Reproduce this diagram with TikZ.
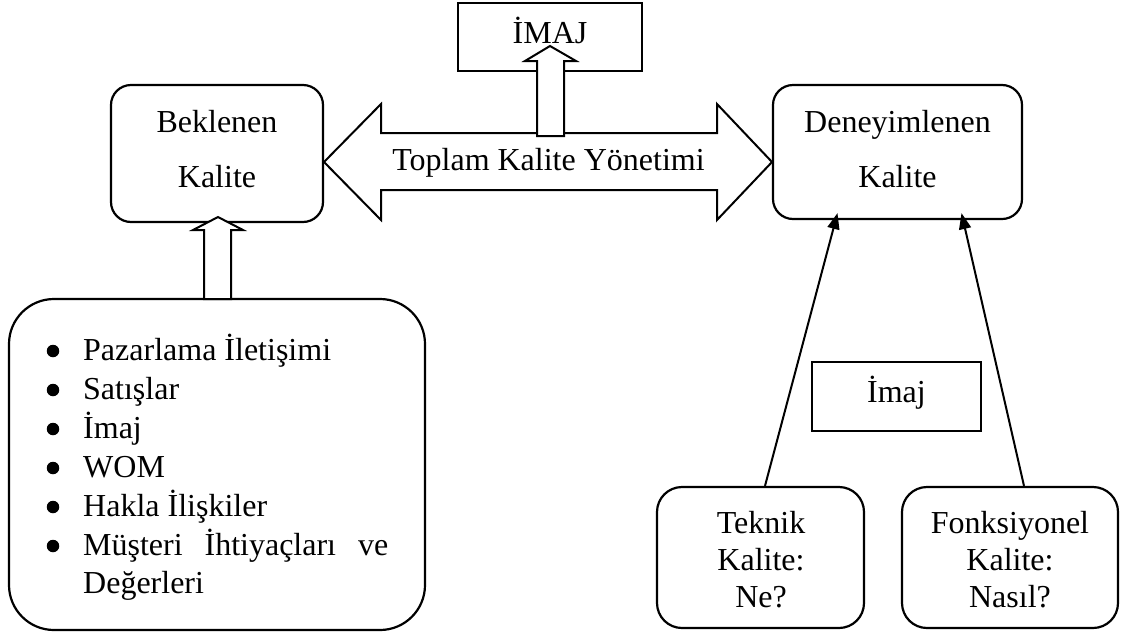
\documentclass[tikz,border=0pt]{standalone}
\usepackage{fontspec}
\setmainfont{Liberation Serif}
\usetikzlibrary{arrows.meta,calc}
\begin{document}
\begin{tikzpicture}[x=1pt,y=-1pt,
  txt/.style={font=\fontsize{32}{38}\selectfont, inner sep=0pt, anchor=base},
  rbox/.style={draw, line width=2.2pt, rounded corners=#1, fill=white, inner sep=0pt},
  sbox/.style={draw, line width=1.3pt, fill=white, inner sep=0pt},
  blockarrow/.style={draw, line width=2pt, fill=white, line join=miter},
  conn/.style={line width=2pt, -{Triangle[length=16pt,width=12pt]}},
  dot/.style={circle, fill=black, inner sep=0pt, minimum size=12.5pt}
]
\useasboundingbox (0,0) rectangle (1123,635);

% main quality boxes
\node[rbox=20pt, minimum width=212pt, minimum height=137pt] (bek) at (217,153.5) {};
\node[rbox=20pt, minimum width=249pt, minimum height=134pt] (den) at (897.5,152) {};
\node[txt] (bek1) at (217,132) {Beklenen};
\node[txt] (bek2) at (217,187) {Kalite};
\node[txt] (den1) at (897.5,132) {Deneyimlenen};
\node[txt] (den2) at (897.5,187) {Kalite};

% total quality management double arrow
\draw[blockarrow] (324,162) -- (381,104) -- (381,133) -- (717,133) -- (717,104)
  -- (772,162) -- (717,220) -- (717,190) -- (381,190) -- (381,220) -- cycle;
\node[txt] (tky) at (548.5,170) {Toplam Kalite Yönetimi};

% image box at the top with its arrow
\node[sbox, minimum width=184pt, minimum height=68pt] (imtop) at (550,37) {};
\node[txt] (imtoptxt) at (550,43) {İMAJ};
\draw[blockarrow] (537,136) -- (537,61) -- (525,61) -- (550,46) -- (576,61)
  -- (564,61) -- (564,136) -- cycle;

% list of factors
\node[rbox=45pt, minimum width=416pt, minimum height=331pt] (list) at (217,464.5) {};
\draw[blockarrow] (204,299) -- (204,230) -- (193,230) -- (218,217) -- (243,230)
  -- (231,230) -- (231,299) -- cycle;
\foreach \i/\yy/\t in {1/360/{Pazarlama İletişimi},
                       2/399/{Satışlar},
                       3/438/{İmaj},
                       4/477/{WOM},
                       5/516/{Hakla İlişkiler}}{
  \node[dot] (b\i) at (53,\yy-9) {};
  \node[txt, anchor=base west] (l\i) at (83,\yy) {\t};
}
\node[dot] (b6) at (53,546) {};
\node[txt, anchor=base west] (l6) at (83,555) {\makebox[305pt][s]{Müşteri İhtiyaçları ve}};
\node[txt, anchor=base west] (l7) at (83,593) {Değerleri};

% technical and functional quality
\node[rbox=25pt, minimum width=207pt, minimum height=141pt] (tek) at (760.5,557.5) {};
\node[rbox=25pt, minimum width=216pt, minimum height=141pt] (fon) at (1010,557.5) {};
\node[txt] (tek1) at (761,533) {Teknik};
\node[txt] (tek2) at (761,570) {Kalite:};
\node[txt] (tek3) at (761,607) {Ne?};
\node[txt] (fon1) at (1010,533) {Fonksiyonel};
\node[txt] (fon2) at (1010,570) {Kalite:};
\node[txt] (fon3) at (1010,607) {Nasıl?};

\node[sbox, minimum width=169pt, minimum height=69pt] (im) at (896.5,396.5) {};
\node[txt] (imtxt) at (896.5,402) {İmaj};

\draw[conn] ([xshift=4.5pt]tek.north) -- ([xshift=-60pt,yshift=7pt]den.south);
\draw[conn] ([xshift=14pt]fon.north) -- ([xshift=64pt,yshift=7pt]den.south);
\end{tikzpicture}
\end{document}
